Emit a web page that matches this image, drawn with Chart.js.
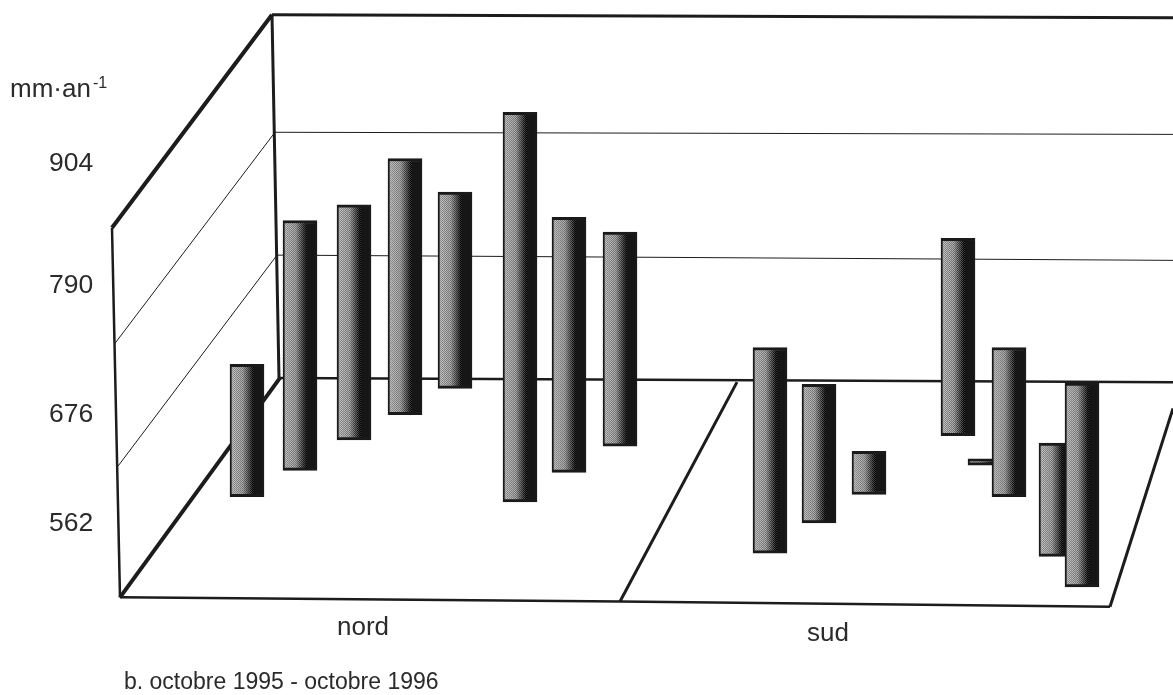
<!DOCTYPE html>
<html lang="fr">
<head>
<meta charset="utf-8">
<title>octobre 1995 - octobre 1996</title>
<script src="https://cdn.jsdelivr.net/npm/chart.js@4/dist/chart.umd.min.js"></script>
<style>
  html, body { margin: 0; padding: 0; background: #fff; }
  canvas { display: block; }
</style>
</head>
<body>
<canvas id="chart" width="1173" height="695"></canvas>
<script>
// Valeurs (mm/an), une barre flottante par site
const sitePos  = [247, 300, 354, 405, 455, 520, 569, 620, 770, 819, 869, 985, 958, 1009, 1056, 1082];
const siteLow  = [586, 611, 640, 664, 689, 581, 609, 634, 532, 561, 588, 616, 644, 586, 529, 500];
const siteHigh = [712, 849, 864, 908, 876, 952, 852, 838, 728, 693, 629, 622, 832, 728, 637, 694];

const tickLabels = ['904', '790', '676', '562'];
// ou les etiquettes sont posees : elles ne sont pas regulieres sur la figure
const tickValues = [903, 787, 664, 560];

const groupLabels = ['nord', 'sud'];
const groupPos = [363, 828];

// Cadre 3D, en [position, valeur]
const topEdge    = [[272, 1045], [1173, 1042]];
const backLeft   = [[272, 1045], [279, 699]];
const wallTop    = [[272, 1045], [112, 842]];
const wallFront  = [[112, 842], [120, 490]];
const floorFront = [[120, 490], [620, 486], [1110, 481]];
const floorLeft  = [[120, 490], [280, 699]];
const floorBack  = [[280, 699], [1173, 695]];
const floorMid   = [[620, 486], [737, 695]];
const floorRight = [[1110, 481], [1173, 670]];
const gridHigh   = [[115, 732], [275, 933], [1173, 931]];
const gridLow    = [[118, 615], [277, 816], [1173, 811]];

const TEXT_COLOR = '#2b2b2b';
const FONT = '"Liberation Sans", Arial, sans-serif';
const BAR_W = 34;

function frameLine(points, width) {
    return {
        type: 'scatter',
        data: points.map(p => ({ x: p[0], y: p[1] })),
        showLine: true,
        pointRadius: 0,
        borderColor: '#1c1c1c',
        borderWidth: width,
        order: 5
    };
}

// Trame des barres : gris clair tramé a gauche, noir a droite
const barTile = document.createElement('canvas');
barTile.width = BAR_W;
barTile.height = 8;
(function () {
    const c = barTile.getContext('2d');
    for (let x = 0; x < BAR_W; x++) {
        const t = x / BAR_W;
        let grey = 22;
        if (t < 0.35) grey = 172 - 70 * t;
        else if (t < 0.68) grey = 148 - (t - 0.35) * 380;
        for (let y = 0; y < 8; y++) {
            const dither = t < 0.68 ? ((x + y) % 2 ? 26 : -26) + ((x + 2 * y) % 4 ? 0 : -14) : 0;
            const v = Math.round(Math.min(255, Math.max(0, grey + dither)));
            c.fillStyle = 'rgb(' + v + ',' + v + ',' + v + ')';
            c.fillRect(x, y, 1, 1);
        }
    }
})();

function barFill(ctx) {
    if (!ctx.raw) return '#555';
    const chart = ctx.chart;
    const x = chart.scales.x.getPixelForValue(ctx.raw.x);
    if (!isFinite(x)) return '#555'; // echelle pas encore prete
    const p = chart.ctx.createPattern(barTile, 'repeat');
    p.setTransform(new DOMMatrix([1, 0, 0, 1, Math.round(x - BAR_W / 2), 0]));
    return p;
}

const texts = {
    id: 'texts',
    afterDraw(chart) {
        const c = chart.ctx;
        c.save();
        c.fillStyle = TEXT_COLOR;
        c.textBaseline = 'alphabetic';
        c.textAlign = 'left';

        c.font = '26px ' + FONT;
        c.fillText('mm·an', 10, 97);
        c.font = '16px ' + FONT;
        c.fillText('-1', 93, 88);

        c.font = '26px ' + FONT;
        c.textAlign = 'center';
        c.fillText(groupLabels[0], chart.scales.x.getPixelForValue(groupPos[0]), 635);
        c.fillText(groupLabels[1], chart.scales.x.getPixelForValue(groupPos[1]), 641);

        c.font = '23px ' + FONT;
        c.textAlign = 'left';
        c.fillText('b. octobre 1995 - octobre 1996', 124, 689);
        c.restore();
    }
};

new Chart(document.getElementById('chart'), {
    type: 'bar',
    data: {
        datasets: [
            {
                data: sitePos.map((x, i) => ({ x: x, y: [siteLow[i], siteHigh[i]] })),
                backgroundColor: barFill,
                borderColor: '#1a1a1a',
                borderWidth: { top: 3, bottom: 3, left: 2, right: 2 },
                borderSkipped: false,
                barThickness: BAR_W,
                order: 1
            },
            frameLine(topEdge, 3),
            frameLine(backLeft, 3),
            frameLine(wallTop, 4),
            frameLine(wallFront, 2.5),
            frameLine(floorFront, 2.5),
            frameLine(floorLeft, 4),
            frameLine(floorBack, 2.5),
            frameLine(floorMid, 3),
            frameLine(floorRight, 3),
            frameLine(gridHigh, 1),
            frameLine(gridLow, 1)
        ]
    },
    options: {
        responsive: false,
        animation: false,
        layout: { padding: 0 },
        plugins: { legend: { display: false }, title: { display: false }, tooltip: { enabled: false } },
        scales: {
            x: { type: 'linear', min: 0, max: 1173, display: false, offset: false, grid: { display: false } },
            y: {
                type: 'linear',
                min: 397,
                max: 1059,
                border: { display: false },
                grid: { display: false, drawTicks: false },
                // le graphique occupe toute la toile, les etiquettes sont dedans
                afterFit(scale) {
                    scale.width = 0;
                    scale.paddingTop = 0;
                    scale.paddingBottom = 0;
                },
                afterBuildTicks(scale) { scale.ticks = tickValues.map(v => ({ value: v })); },
                ticks: {
                    mirror: true,
                    padding: 49,
                    color: TEXT_COLOR,
                    font: { family: FONT, size: 26.5 },
                    callback: (value, index) => tickLabels[index]
                }
            }
        }
    },
    plugins: [texts]
});
</script>
</body>
</html>
